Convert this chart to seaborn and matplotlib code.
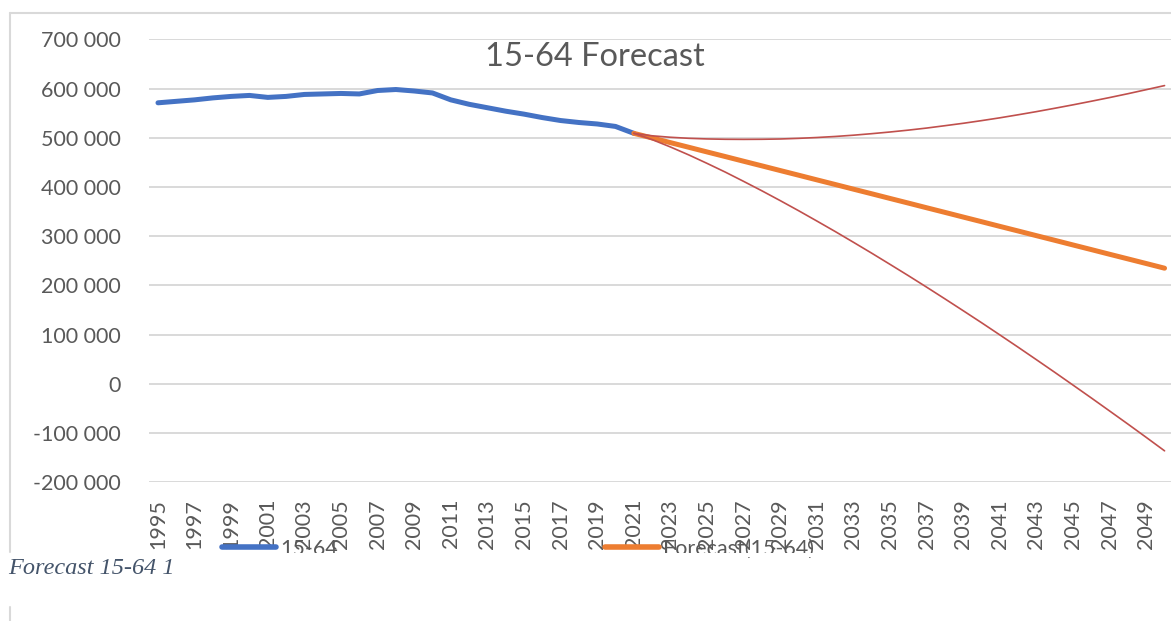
import numpy as np
import pandas as pd
import seaborn as sns
import matplotlib.pyplot as plt
from matplotlib.ticker import FuncFormatter
from matplotlib.lines import Line2D
from matplotlib.patches import Rectangle

# historical 15-64 population
years_hist = list(range(1995, 2022))
pop_hist = [571000, 574000, 577000, 581000, 584000, 586000, 582000, 584000,
            588000, 589000, 590000, 589000, 596000, 598000, 595000, 591000,
            577000, 568000, 561000, 554000, 548000, 541000, 535000, 531000,
            528000, 523000, 509000]

# forecast with confidence bounds
years_fc = list(range(2021, 2051))
forecast = [509000, 499600, 490100, 480700, 471200, 461800, 452300, 442900,
            433400, 424000, 414500, 405100, 395600, 386200, 376700, 367300,
            357800, 348400, 338900, 329500, 320000, 310600, 301100, 291700,
            282200, 272800, 263300, 253900, 244500, 235000]
upper = [509000, 504000, 501000, 498900, 497600, 496900, 496700, 496900,
         497500, 498800, 500500, 502600, 505200, 508300, 511700, 515500,
         519700, 524500, 529400, 534800, 540500, 546700, 553100, 559900,
         566900, 574200, 581700, 589500, 597700, 606000]
lower = [509000, 496300, 481300, 465200, 448000, 430200, 411400, 392200,
         372300, 351900, 330900, 309600, 287700, 265500, 242800, 219900,
         196500, 172700, 148600, 124300, 99500, 74500, 49100, 23500,
         -2500, -28600, -55100, -81700, -108700, -136000]

tick_years = list(range(1995, 2050, 2))

sns.set_style("white")
plt.rcParams['font.family'] = ['Lato', 'DejaVu Sans']

grey = '#595959'
fig = plt.figure(figsize=(11.71, 6.21), dpi=100)
ax = fig.add_axes([0.1271, 0.2233, 0.8752, 0.7134])

sns.lineplot(x=years_hist, y=pop_hist, ax=ax, color='#4472C4', linewidth=3.6,
             solid_capstyle='round', label='15-64')
sns.lineplot(x=years_fc, y=forecast, ax=ax, color='#ED7D31', linewidth=3.6,
             solid_capstyle='round', label='Forecast(15-64)')
sns.lineplot(x=years_fc, y=lower, ax=ax, color='#C0504D', linewidth=1.2, legend=False)
sns.lineplot(x=years_fc, y=upper, ax=ax, color='#C0504D', linewidth=1.2, legend=False)
ax.get_legend().remove()

ax.set_xlim(1994.5, 2050.5)
ax.set_ylim(-200000, 700000)
ax.set_yticks(range(-200000, 700001, 100000))
ax.yaxis.set_major_formatter(FuncFormatter(lambda v, p: f"{int(v):,}".replace(',', ' ')))
ax.set_xticks(tick_years)
ax.set_xticklabels([str(y) for y in tick_years], rotation=90)
ax.tick_params(axis='y', length=0, pad=20, labelsize=15.5, labelcolor=grey)
ax.tick_params(axis='x', length=0, pad=12, labelsize=15.5, labelcolor=grey)
ax.yaxis.grid(True, color='#D9D9D9', linewidth=1.4)
ax.xaxis.grid(False)
ax.set_axisbelow(True)
ax.set_xlabel('')
ax.set_ylabel('')
for s in ax.spines.values():
    s.set_visible(False)

fig.text(595 / 1171, 1 - 57 / 621, '15-64 Forecast', ha='center', va='center',
         fontsize=23.5, color=grey)

handles = [Line2D([], [], color='#4472C4', lw=4, solid_capstyle='round'),
           Line2D([], [], color='#ED7D31', lw=4, solid_capstyle='round')]
fig.legend(handles, ['15-64', 'Forecast(15-64)'], loc='center left',
           bbox_to_anchor=(222 / 1171, 1 - 549 / 621), ncol=2, frameon=False,
           fontsize=15.5, labelcolor=grey, handlelength=2.5, handletextpad=0.2,
           columnspacing=12.4, borderpad=0, borderaxespad=0)

# chart frame bits; legend text is cut off at the chart's bottom edge
fig.add_artist(Line2D([9.5 / 1171, 1], [1 - 12.7 / 621] * 2, color='#D9D9D9', lw=1.5))
fig.add_artist(Line2D([9.5 / 1171] * 2, [1 - 12.7 / 621, 1 - 552 / 621], color='#D9D9D9', lw=1.5))
fig.add_artist(Line2D([9.5 / 1171] * 2, [0, 1 - 607 / 621], color='#D9D9D9', lw=1.5))
fig.add_artist(Rectangle((11 / 1171, 1 - 557 / 621), 1, 4 / 621, transform=fig.transFigure,
                         facecolor='white', edgecolor='none', zorder=20))

fig.text(8 / 1171, 1 - 568 / 621, 'Forecast 15-64 1', ha='left', va='center',
         fontsize=17.5, color='#44546A', style='italic', family='Liberation Serif',
         zorder=30)

fig.savefig('out.png', dpi=100)
